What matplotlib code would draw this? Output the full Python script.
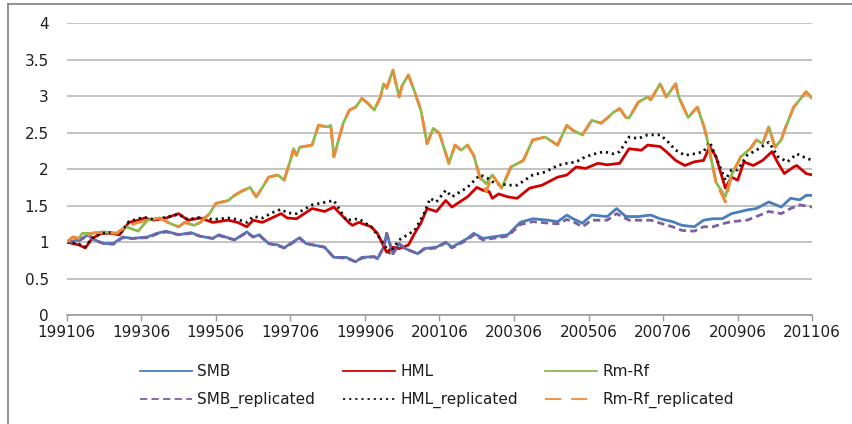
import matplotlib
matplotlib.use("Agg")
import matplotlib.pyplot as plt
from matplotlib.lines import Line2D

# ---------------- data (months since 199106, cumulative value) ----------------
tick_labels = ["199106", "199306", "199506", "199706", "199906", "200106",
               "200306", "200506", "200706", "200906", "201106"]
y_ticks = [0, 0.5, 1, 1.5, 2, 2.5, 3, 3.5, 4]
y_tick_labels = ["0", "0.5", "1", "1.5", "2", "2.5", "3", "3.5", "4"]
series_names = ["SMB", "HML", "Rm-Rf", "SMB_replicated", "HML_replicated", "Rm-Rf_replicated"]

smb_month = [0, 4, 7, 9, 12, 15, 18, 21, 26, 29, 32, 36, 40, 43, 47, 49, 54, 58, 60, 62,
             65, 68, 70, 72, 75, 77, 83, 86, 90, 93, 95, 99, 100, 102, 103, 105, 107, 109, 113, 115,
             119, 122, 124, 129, 131, 134, 137, 142, 146, 150, 155, 158, 161, 163, 166, 169, 174, 177, 180, 184,
             188, 191, 195, 198, 202, 205, 208, 211, 214, 219, 222, 226, 230, 233, 236, 238, 240]
smb_value = [1.00, 1.03, 1.10, 1.03, 0.98, 0.98, 1.07, 1.05, 1.07, 1.12, 1.15, 1.10, 1.13, 1.08, 1.05, 1.10, 1.03, 1.14, 1.07, 1.10,
             0.98, 0.96, 0.92, 0.98, 1.06, 0.98, 0.93, 0.79, 0.79, 0.73, 0.79, 0.80, 0.77, 0.93, 1.12, 0.84, 0.98, 0.91, 0.84, 0.91,
             0.93, 1.00, 0.93, 1.05, 1.12, 1.05, 1.07, 1.10, 1.27, 1.32, 1.30, 1.28, 1.37, 1.32, 1.26, 1.37, 1.35, 1.46, 1.35, 1.35,
             1.37, 1.32, 1.28, 1.23, 1.21, 1.30, 1.32, 1.32, 1.39, 1.44, 1.46, 1.55, 1.48, 1.60, 1.58, 1.64, 1.64]

hml_month = [0, 4, 6, 8, 11, 14, 17, 20, 23, 25, 28, 32, 36, 39, 43, 47, 52, 55, 58, 60,
             63, 66, 69, 71, 74, 79, 83, 86, 88, 91, 92, 94, 98, 100, 103, 105, 107, 110, 112, 114,
             116, 119, 122, 124, 129, 132, 134, 136, 137, 139, 142, 145, 149, 153, 158, 161, 164, 167, 171, 174,
             178, 181, 185, 187, 191, 193, 196, 199, 202, 205, 207, 209, 212, 214, 216, 218, 221, 224, 227, 229,
             231, 234, 235, 238, 240]
hml_value = [1.00, 0.96, 0.92, 1.04, 1.12, 1.12, 1.10, 1.27, 1.30, 1.33, 1.30, 1.33, 1.39, 1.30, 1.33, 1.27, 1.30, 1.27, 1.21, 1.30,
             1.27, 1.33, 1.39, 1.33, 1.32, 1.46, 1.42, 1.48, 1.39, 1.26, 1.23, 1.27, 1.21, 1.12, 0.86, 0.93, 0.91, 0.96, 1.12, 1.26,
             1.46, 1.42, 1.57, 1.48, 1.62, 1.75, 1.71, 1.69, 1.60, 1.66, 1.62, 1.60, 1.74, 1.78, 1.89, 1.92, 2.03, 2.01, 2.08, 2.06,
             2.08, 2.28, 2.26, 2.33, 2.31, 2.24, 2.12, 2.05, 2.10, 2.12, 2.31, 2.17, 1.74, 1.89, 1.85, 2.10, 2.05, 2.12, 2.24, 2.08,
             1.94, 2.03, 2.05, 1.94, 1.92]

rmrf_month = [0, 2, 4, 5, 8, 12, 16, 19, 23, 26, 30, 33, 36, 38, 41, 43, 46, 48, 52, 54,
              56, 59, 61, 63, 65, 68, 70, 72, 73, 74, 75, 79, 81, 84, 85, 86, 89, 91, 93, 95,
              97, 99, 101, 102, 103, 105, 107, 108, 110, 112, 114, 116, 118, 120, 123, 125, 127, 129, 131, 133,
              135, 137, 140, 143, 147, 150, 154, 158, 161, 163, 166, 169, 172, 174, 176, 178, 180, 181, 184, 187,
              188, 191, 193, 196, 197, 200, 203, 205, 206, 209, 212, 214, 217, 220, 222, 224, 226, 228, 230, 231,
              234, 238, 240]
rmrf_value = [1.00, 1.07, 1.05, 1.12, 1.12, 1.14, 1.12, 1.21, 1.15, 1.30, 1.33, 1.26, 1.21, 1.27, 1.23, 1.27, 1.39, 1.53, 1.57, 1.64,
              1.69, 1.75, 1.62, 1.75, 1.89, 1.92, 1.85, 2.12, 2.28, 2.19, 2.30, 2.33, 2.60, 2.58, 2.60, 2.17, 2.63, 2.81, 2.85, 2.97,
              2.90, 2.81, 2.99, 3.17, 3.11, 3.36, 2.99, 3.15, 3.29, 3.06, 2.81, 2.35, 2.56, 2.49, 2.08, 2.33, 2.26, 2.33, 2.19, 1.89,
              1.80, 1.92, 1.74, 2.03, 2.12, 2.40, 2.44, 2.33, 2.60, 2.53, 2.47, 2.67, 2.63, 2.70, 2.78, 2.83, 2.71, 2.70, 2.92, 2.99,
              2.95, 3.17, 2.99, 3.17, 2.99, 2.71, 2.85, 2.60, 2.44, 1.82, 1.62, 1.92, 2.17, 2.28, 2.40, 2.35, 2.58, 2.30, 2.40, 2.53,
              2.85, 3.06, 2.97]

smb_rep_month = [0, 4, 7, 9, 12, 15, 18, 21, 26, 29, 32, 36, 40, 43, 47, 49, 54, 58, 60, 62,
                 65, 68, 70, 72, 75, 77, 83, 86, 90, 93, 95, 99, 100, 102, 103, 105, 107, 109, 113, 115,
                 119, 122, 124, 129, 131, 134, 137, 142, 146, 150, 155, 158, 161, 163, 166, 169, 174, 177, 181, 188,
                 191, 195, 198, 202, 205, 208, 211, 214, 219, 222, 226, 230, 233, 236, 240]
smb_rep_value = [1.00, 1.02, 1.09, 1.02, 0.98, 0.97, 1.06, 1.05, 1.06, 1.11, 1.14, 1.10, 1.12, 1.08, 1.05, 1.09, 1.03, 1.13, 1.07, 1.09,
                 0.98, 0.95, 0.92, 0.97, 1.05, 0.98, 0.93, 0.79, 0.78, 0.73, 0.78, 0.80, 0.77, 0.92, 1.12, 0.84, 0.97, 0.91, 0.84, 0.90,
                 0.92, 0.99, 0.92, 1.03, 1.10, 1.03, 1.05, 1.08, 1.24, 1.28, 1.26, 1.25, 1.31, 1.28, 1.21, 1.30, 1.30, 1.39, 1.30, 1.30,
                 1.26, 1.21, 1.16, 1.15, 1.21, 1.21, 1.25, 1.28, 1.30, 1.35, 1.42, 1.39, 1.46, 1.51, 1.48]

hml_rep_month = [0, 4, 6, 8, 11, 14, 17, 20, 23, 25, 28, 32, 36, 39, 43, 47, 52, 55, 58, 60,
                 63, 66, 69, 71, 74, 79, 86, 90, 94, 98, 100, 104, 107, 112, 115, 117, 119, 122, 124, 129,
                 133, 135, 138, 143, 145, 150, 154, 158, 161, 164, 167, 170, 173, 176, 178, 181, 184, 187, 191, 193,
                 196, 199, 202, 205, 207, 209, 212, 214, 216, 219, 222, 226, 229, 232, 235, 237, 240]
hml_rep_value = [1.00, 0.97, 0.93, 1.05, 1.12, 1.13, 1.11, 1.28, 1.32, 1.34, 1.31, 1.34, 1.38, 1.31, 1.34, 1.31, 1.33, 1.31, 1.27, 1.35,
                 1.33, 1.40, 1.45, 1.40, 1.39, 1.51, 1.57, 1.30, 1.32, 1.21, 1.10, 0.85, 1.03, 1.16, 1.39, 1.60, 1.55, 1.71, 1.62, 1.75,
                 1.92, 1.89, 1.80, 1.78, 1.78, 1.92, 1.96, 2.05, 2.08, 2.10, 2.17, 2.21, 2.24, 2.21, 2.24, 2.44, 2.42, 2.47, 2.47, 2.40,
                 2.26, 2.19, 2.21, 2.24, 2.37, 2.17, 1.85, 1.99, 1.99, 2.19, 2.26, 2.37, 2.17, 2.10, 2.21, 2.17, 2.12]

rmrf_rep_month = list(rmrf_month)
rmrf_rep_value = [1.00, 1.07, 1.05, 1.05, 1.12, 1.14, 1.12, 1.21, 1.27, 1.30, 1.33, 1.26, 1.21, 1.27, 1.23, 1.27, 1.39, 1.53, 1.57, 1.64,
                  1.69, 1.75, 1.62, 1.75, 1.89, 1.92, 1.85, 2.12, 2.26, 2.19, 2.30, 2.33, 2.60, 2.58, 2.60, 2.17, 2.63, 2.81, 2.85, 2.97,
                  2.90, 2.81, 2.99, 3.17, 3.11, 3.35, 2.99, 3.15, 3.29, 3.06, 2.81, 2.35, 2.56, 2.49, 2.08, 2.33, 2.26, 2.33, 2.19, 1.89,
                  1.69, 1.92, 1.74, 2.03, 2.12, 2.40, 2.44, 2.33, 2.60, 2.53, 2.47, 2.67, 2.63, 2.70, 2.78, 2.83, 2.71, 2.70, 2.92, 2.99,
                  2.95, 3.17, 2.99, 3.17, 2.99, 2.71, 2.85, 2.60, 2.44, 1.82, 1.55, 1.92, 2.17, 2.28, 2.40, 2.35, 2.58, 2.30, 2.40, 2.53,
                  2.85, 3.06, 2.97]

# ---------------- style ----------------
plt.rcParams["font.family"] = ["DejaVu Sans"]
FS = 11
TXT = "#1E1E1E"

W, H = 853, 424
fig = plt.figure(figsize=(W / 100, H / 100), dpi=100)
ax = fig.add_axes([66.7 / W, 1 - 315 / H, (812.3 - 66.7) / W, (315 - 23.3) / H])

colors = ["#4A7EBB", "#D00000", "#8DB94E", "#7B5FA3", "#111111", "#EE8A3A"]
plot_dashes = [None, None, None, (2.6, 1.5), (0.8, 1.4), (5.5, 3.0)]
leg_dashes = [None, None, None, (4.0, 2.4), (1.2, 2.2), (9.0, 5.5)]
xs = [smb_month, hml_month, rmrf_month, smb_rep_month, hml_rep_month, rmrf_rep_month]
ys = [smb_value, hml_value, rmrf_value, smb_rep_value, hml_rep_value, rmrf_rep_value]

lw = 2.0
for i in range(6):
    kw = {}
    if plot_dashes[i] is not None:
        kw["dashes"] = plot_dashes[i]
    ax.plot(xs[i], ys[i], color=colors[i], lw=lw, zorder=3 + (i >= 3), **kw)

ax.set_xlim(0, 240)
ax.set_ylim(0, 4)
ax.set_xticks(range(0, 241, 24))
ax.set_xticklabels(tick_labels)
ax.set_yticks(y_ticks)
ax.set_yticklabels(y_tick_labels)

ax.grid(axis="y", color="#BEBEBE", lw=1.3, zorder=1)
ax.set_axisbelow(True)
for s in ["left", "right", "top"]:
    ax.spines[s].set_visible(False)
ax.spines["bottom"].set_color("#9A9A9A")
ax.spines["bottom"].set_linewidth(1.2)
ax.tick_params(axis="x", direction="out", length=4.5, width=1.0, color="#9A9A9A",
               labelsize=FS, pad=3, labelcolor=TXT)
ax.tick_params(axis="y", length=0, labelsize=FS, pad=13, labelcolor=TXT)

# legend: three columns, two rows
handles = []
for i in range(6):
    kw = {}
    if leg_dashes[i] is not None:
        kw["dashes"] = leg_dashes[i]
    handles.append(Line2D([], [], color=colors[i], lw=1.3, **kw))

col_x = [140, 343, 545]
for c in range(3):
    fig.legend([handles[c], handles[c + 3]], [series_names[c], series_names[c + 3]],
               loc="center left", bbox_to_anchor=(col_x[c] / W, 1 - 386 / H),
               frameon=False, fontsize=FS, handlelength=3.4, handletextpad=0.35,
               borderpad=0, borderaxespad=0, labelspacing=0.85, labelcolor=TXT)

# outer chart border (left and top visible)
fig.add_artist(Line2D([8 / W, 8 / W], [0, 1 - 4 / H], transform=fig.transFigure,
                      color="#8A8A8A", lw=1.3))
fig.add_artist(Line2D([8 / W, 1], [1 - 4 / H, 1 - 4 / H], transform=fig.transFigure,
                      color="#8A8A8A", lw=1.3))

fig.savefig("out.png", dpi=100)
